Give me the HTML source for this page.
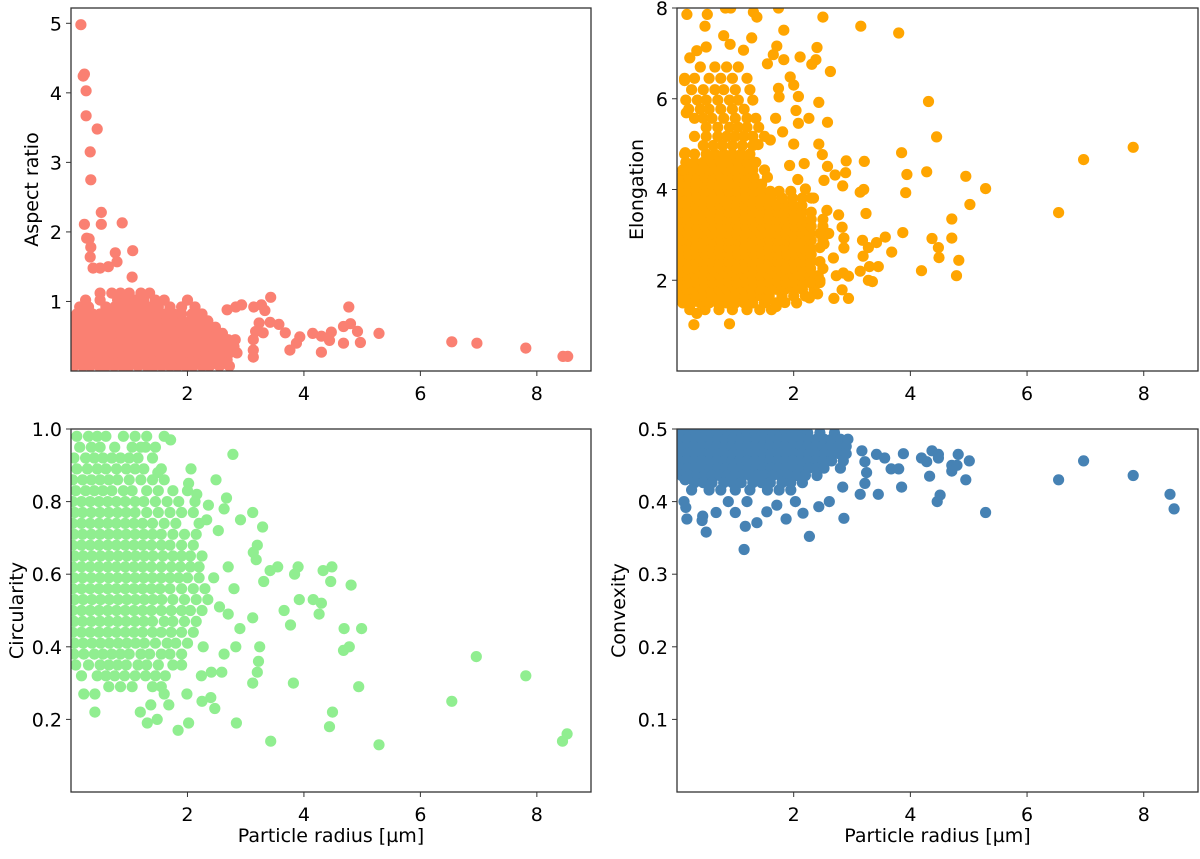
<!DOCTYPE html>
<html><head><meta charset="utf-8"><style>
body{margin:0;background:#fff}
svg text{font-family:"DejaVu Sans","Liberation Sans",sans-serif;fill:#000}
</style></head><body>
<svg id="fig" width="1200" height="854" viewBox="0 0 1200 854" xmlns="http://www.w3.org/2000/svg"></svg>
<script>
// ---------- data ----------
const xTicks=[2,4,6,8];
const aspectTicks=[1,2,3,4,5];
const elongTicks=[2,4,6,8];
const circTicks=[0.2,0.4,0.6,0.8,1.0];
const convTicks=[0.1,0.2,0.3,0.4,0.5];
const circTickLabels=["0.2","0.4","0.6","0.8","1.0"];
const convTickLabels=["0.1","0.2","0.3","0.4","0.5"];

const aspectRows=[
[0.07,[0.05,0.2,0.33,0.48,0.6,0.74,0.88,1.0,1.15,1.3,1.42,1.56,1.7,1.83,1.97,2.1,2.25,2.38,2.55,2.72]],
[0.16,[0.03,0.16,0.29,0.42,0.55,0.69,0.82,0.95,1.08,1.21,1.35,1.48,1.61,1.75,1.88,2.01,2.15,2.28,2.41,2.55,2.68]],
[0.26,[0.06,0.19,0.32,0.46,0.59,0.72,0.86,0.99,1.12,1.25,1.38,1.52,1.65,1.78,1.91,2.05,2.18,2.31,2.45,2.58,2.72,2.85]],
[0.35,[0.03,0.16,0.29,0.42,0.55,0.69,0.82,0.95,1.08,1.21,1.35,1.48,1.61,1.75,1.88,2.01,2.15,2.28,2.41,2.55,2.68,2.8]],
[0.45,[0.04,0.18,0.31,0.44,0.57,0.7,0.84,0.97,1.1,1.23,1.37,1.5,1.63,1.77,1.9,2.03,2.17,2.3,2.43,2.57,2.7,2.82]],
[0.54,[0.05,0.18,0.32,0.45,0.58,0.71,0.85,0.98,1.11,1.24,1.38,1.51,1.64,1.78,1.91,2.04,2.18,2.31,2.45,2.6]],
[0.63,[0.03,0.17,0.3,0.43,0.56,0.7,0.83,0.96,1.09,1.23,1.36,1.49,1.62,1.76,1.89,2.02,2.16,2.3,2.48]],
[0.72,[0.05,0.18,0.31,0.45,0.58,0.71,0.85,0.98,1.11,1.25,1.38,1.51,1.64,1.78,1.91,2.05,2.2,2.35]],
[0.82,[0.1,0.23,0.37,0.5,0.64,0.78,0.92,1.06,1.2,1.34,1.48,1.62,1.76,1.9,2.08,2.25]],
[0.92,[0.15,0.3,0.6,0.75,0.9,1.05,1.2,1.35,1.5,1.7,1.9,2.13]],
[1.02,[0.25,0.5,0.8,0.95,1.1,1.25,1.45,1.6,2.0]],
[1.12,[0.5,0.7,0.85,1.0,1.2,1.35]]
];
const aspectExtra=[[0.17,4.98],[0.21,4.24],[0.23,4.27],[0.26,4.03],[0.26,3.67],[0.45,3.48],[0.33,3.15],[0.34,2.75],[0.52,2.28],[0.23,2.11],[0.52,2.11],[0.88,2.13],[0.27,1.91],[0.31,1.9],[0.34,1.78],[0.33,1.64],[1.06,1.73],[0.76,1.7],[0.79,1.57],[0.38,1.48],[0.5,1.48],[0.64,1.5],[1.05,1.35],[2.68,0.88],[2.83,0.92],[2.93,0.95],[3.14,0.92],[3.27,0.95],[3.43,1.06],[3.33,0.87],[3.23,0.69],[3.17,0.57],[3.13,0.45],[3.13,0.3],[3.13,0.2],[3.42,0.7],[3.57,0.67],[3.68,0.55],[3.3,0.55],[3.93,0.49],[3.87,0.4],[3.76,0.3],[4.15,0.54],[4.3,0.5],[4.47,0.56],[4.44,0.44],[4.3,0.27],[4.77,0.92],[4.68,0.64],[4.8,0.68],[4.92,0.57],[4.68,0.4],[4.97,0.41],[5.29,0.54],[6.54,0.42],[6.97,0.4],[7.81,0.33],[8.45,0.21],[8.53,0.21]];

const elongRows=[
[1.35,[0.22,0.48,0.72,0.95,1.2,1.42,1.62]],
[1.5,[0.1,0.25,0.4,0.55,0.7,0.85,1.0,1.15,1.3,1.5,1.7,2.05]],
[1.65,[0.05,0.18,0.32,0.46,0.6,0.74,0.88,1.02,1.16,1.3,1.44,1.58,1.8,2.0,2.2]],
[1.8,[0.04,0.17,0.3,0.44,0.58,0.72,0.86,1.0,1.14,1.28,1.42,1.56,1.7,1.85,2.0,2.15,2.35]],
[1.95,[0.06,0.19,0.33,0.47,0.61,0.75,0.89,1.03,1.17,1.31,1.45,1.59,1.73,1.87,2.01,2.15,2.3,2.45]],
[2.1,[0.04,0.18,0.32,0.46,0.6,0.74,0.88,1.02,1.16,1.3,1.44,1.58,1.72,1.86,2.0,2.14,2.28,2.42]],
[2.26,[0.05,0.19,0.33,0.47,0.61,0.75,0.89,1.03,1.17,1.31,1.45,1.59,1.73,1.87,2.01,2.15,2.29,2.5]],
[2.41,[0.04,0.18,0.32,0.46,0.6,0.74,0.88,1.02,1.16,1.3,1.44,1.58,1.72,1.86,2.0,2.14,2.3,2.45]],
[2.57,[0.06,0.2,0.34,0.48,0.62,0.76,0.9,1.04,1.18,1.32,1.46,1.6,1.74,1.88,2.02,2.16,2.3]],
[2.72,[0.04,0.18,0.32,0.46,0.6,0.74,0.88,1.02,1.16,1.3,1.44,1.58,1.72,1.86,2.0,2.14,2.28,2.45]],
[2.88,[0.05,0.19,0.33,0.47,0.61,0.75,0.89,1.03,1.17,1.31,1.45,1.59,1.73,1.87,2.01,2.15,2.3,2.5]],
[3.03,[0.04,0.18,0.32,0.46,0.6,0.74,0.88,1.02,1.16,1.3,1.44,1.58,1.72,1.86,2.0,2.14,2.28,2.45,2.6]],
[3.19,[0.06,0.2,0.34,0.48,0.62,0.76,0.9,1.04,1.18,1.32,1.46,1.6,1.74,1.88,2.02,2.16,2.3,2.5]],
[3.34,[0.04,0.18,0.32,0.46,0.6,0.74,0.88,1.02,1.16,1.3,1.44,1.58,1.72,1.86,2.0,2.14,2.3,2.5]],
[3.5,[0.05,0.19,0.33,0.47,0.61,0.75,0.89,1.03,1.17,1.31,1.45,1.59,1.73,1.87,2.01,2.15,2.3]],
[3.65,[0.04,0.18,0.32,0.46,0.6,0.74,0.88,1.02,1.16,1.3,1.44,1.58,1.72,1.86,2.0,2.14]],
[3.81,[0.06,0.2,0.34,0.48,0.62,0.76,0.9,1.04,1.18,1.32,1.46,1.62,1.8,1.98,2.15,2.3]],
[3.96,[0.05,0.19,0.33,0.47,0.61,0.75,0.89,1.03,1.17,1.31,1.45,1.6,1.75,1.95]],
[4.12,[0.04,0.18,0.32,0.46,0.6,0.74,0.88,1.02,1.16,1.3,1.45]],
[4.27,[0.06,0.2,0.34,0.48,0.62,0.76,0.9,1.04,1.18,1.32,1.55]],
[4.43,[0.1,0.25,0.4,0.55,0.7,0.85,1.0,1.15,1.3,1.5]],
[4.6,[0.15,0.3,0.45,0.6,0.75,0.9,1.05,1.2,1.35]],
[4.78,[0.13,0.3,0.5,0.65,0.8,0.95,1.1,1.25]],
[4.97,[0.45,0.62,0.78,0.95,1.12,1.3]],
[5.17,[0.3,0.5,0.7,0.85,1.0,1.15,1.3,1.5]],
[5.37,[0.5,0.7,0.9,1.05,1.2,1.4]],
[5.57,[0.3,0.45,0.6,0.8,1.0,1.2,1.35]],
[5.77,[0.2,0.4,0.55,0.75,0.95,1.15]],
[5.97,[0.15,0.35,0.5,0.7,0.9,1.05,1.3]],
[6.2,[0.25,0.45,0.65,0.8,1.0,1.25]],
[6.45,[0.13,0.3,0.55,0.75,0.95,1.2]],
[6.7,[0.4,0.65,0.85,1.05]]
];
const elongExtra=[[2.5,7.8],[3.15,7.6],[3.8,7.45],[4.31,5.94],[4.45,5.16],[7.82,4.93],[6.97,4.66],[6.54,3.49],[5.29,4.02],[4.95,4.29],[5.02,3.67],[4.71,3.35],[4.71,2.93],[4.83,2.44],[4.79,2.1],[4.49,2.5],[4.48,2.72],[4.37,2.92],[4.19,2.21],[4.28,4.39],[3.94,4.33],[3.92,3.93],[3.85,4.81],[3.87,3.05],[3.68,2.62],[3.57,2.95],[3.42,2.83],[3.24,3.47],[3.21,4.62],[3.2,4.0],[3.14,3.94],[3.18,2.88],[3.28,2.72],[3.19,2.53],[3.14,2.2],[3.3,2.3],[3.45,2.3],[3.28,2.0],[3.35,1.97],[2.9,4.63],[2.89,4.37],[2.84,4.08],[2.71,4.32],[2.52,4.2],[2.58,4.51],[2.49,4.77],[2.43,5.0],[2.18,4.57],[1.93,4.53],[2.07,4.22],[2.2,4.01],[2.34,3.81],[2.57,3.54],[2.77,3.44],[2.83,3.17],[2.86,2.93],[2.86,2.71],[2.68,2.49],[2.52,2.8],[2.73,2.1],[2.85,2.16],[2.94,2.09],[2.83,1.79],[2.69,1.6],[2.94,1.6],[2.45,2.0],[2.41,1.7],[2.27,1.61],[2.28,1.95],[1.85,1.51],[1.7,1.42],[1.55,1.57],[0.9,1.04],[0.29,1.02],[0.34,1.27],[2.63,6.6],[2.43,5.92],[2.58,5.48],[2.4,7.13],[2.38,6.86],[2.31,6.76],[2.11,6.92],[1.83,7.51],[2.08,6.05],[2.04,5.74],[2.08,5.46],[2.26,5.57],[2.0,5.0],[1.94,6.48],[2.0,6.3],[1.74,6.23],[1.75,6.04],[1.71,7.16],[1.65,6.97],[1.83,6.86],[1.55,6.77],[1.69,5.57],[1.81,5.27],[1.6,5.09],[1.39,4.99],[1.28,7.34],[1.14,7.07],[1.31,7.91],[1.37,7.8],[1.74,8.0],[0.8,7.39],[0.91,7.2],[0.83,8.0],[0.92,8.0],[0.52,7.86],[0.48,7.6],[0.17,7.86],[0.5,7.14],[0.34,7.06],[0.22,6.9],[0.13,6.4],[0.16,5.69],[0.14,4.81],[0.11,4.43]];

const circRows=[
[0.98,[0.1,0.3,0.45,0.6,0.9,1.1,1.3,1.6]],
[0.95,[0.15,0.35,0.5,0.75,1.05,1.2,1.45]],
[0.92,[0.05,0.25,0.4,0.55,0.7,0.85,1.0,1.15,1.4]],
[0.89,[0.1,0.28,0.45,0.6,0.78,0.95,1.1,1.25,1.55]],
[0.86,[0.03,0.2,0.35,0.5,0.65,0.8,1.0,1.2,1.4,1.6]],
[0.83,[0.08,0.25,0.4,0.55,0.7,0.9,1.05,1.3,1.5,1.75,2.0]],
[0.8,[0.03,0.18,0.33,0.48,0.63,0.78,0.93,1.1,1.25,1.45,1.65,1.85]],
[0.77,[0.06,0.2,0.35,0.5,0.65,0.8,0.95,1.1,1.3,1.5,1.7,1.9,2.1]],
[0.74,[0.03,0.18,0.33,0.48,0.63,0.78,0.93,1.08,1.23,1.4,1.6,1.8,2.2]],
[0.71,[0.05,0.2,0.35,0.5,0.65,0.8,0.95,1.1,1.25,1.4,1.55,1.75,1.95,2.15]],
[0.68,[0.03,0.18,0.33,0.48,0.63,0.78,0.93,1.08,1.23,1.38,1.55,1.7,1.9,2.1]],
[0.65,[0.06,0.21,0.36,0.51,0.66,0.81,0.96,1.11,1.26,1.41,1.58,1.75,1.9,2.05,2.25]],
[0.62,[0.03,0.18,0.33,0.48,0.63,0.78,0.93,1.08,1.23,1.38,1.55,1.72,1.88,2.05,2.2]],
[0.59,[0.05,0.2,0.35,0.5,0.65,0.8,0.95,1.1,1.25,1.4,1.55,1.7,1.85,2.0,2.2,2.45]],
[0.56,[0.03,0.18,0.33,0.48,0.63,0.78,0.93,1.08,1.23,1.38,1.53,1.7,1.9,2.1,2.3]],
[0.53,[0.06,0.21,0.36,0.51,0.66,0.81,0.96,1.11,1.26,1.41,1.56,1.75,1.95,2.15,2.35]],
[0.5,[0.03,0.18,0.33,0.48,0.63,0.78,0.93,1.08,1.23,1.38,1.55,1.72,1.9,2.05,2.25]],
[0.47,[0.05,0.2,0.35,0.5,0.65,0.8,0.95,1.1,1.25,1.4,1.6,1.75,1.95,2.15]],
[0.44,[0.03,0.18,0.33,0.48,0.63,0.78,0.93,1.08,1.23,1.4,1.55,1.72,1.9,2.1]],
[0.41,[0.06,0.21,0.36,0.51,0.66,0.81,0.96,1.11,1.26,1.45,1.65,1.8,2.0]],
[0.38,[0.05,0.22,0.4,0.55,0.7,0.85,1.0,1.2,1.35,1.55,1.7,1.9]],
[0.35,[0.08,0.3,0.5,0.65,0.8,0.95,1.15,1.3,1.5,1.75,1.9]],
[0.32,[0.18,0.45,0.6,0.75,0.92,1.1,1.28,1.45,1.62]],
[0.29,[0.65,0.85,1.05,1.4,1.55]]
];
const circExtra=[[2.78,0.93],[2.49,0.86],[2.06,0.89],[2.67,0.81],[2.63,0.78],[3.12,0.77],[2.91,0.75],[3.29,0.73],[3.2,0.68],[3.13,0.66],[3.18,0.64],[3.55,0.62],[3.42,0.61],[3.31,0.58],[3.9,0.62],[3.84,0.6],[4.33,0.61],[4.48,0.62],[4.46,0.58],[4.81,0.57],[3.92,0.53],[4.16,0.53],[4.3,0.52],[4.26,0.49],[3.66,0.5],[3.77,0.46],[4.69,0.45],[4.99,0.45],[4.68,0.39],[4.78,0.4],[6.96,0.373],[7.81,0.32],[6.54,0.25],[4.94,0.29],[3.82,0.3],[4.49,0.22],[4.44,0.18],[3.43,0.14],[5.29,0.13],[8.52,0.16],[8.44,0.14],[2.84,0.19],[3.12,0.3],[3.2,0.33],[3.22,0.36],[3.24,0.4],[3.12,0.48],[2.9,0.45],[2.83,0.4],[2.63,0.38],[2.59,0.33],[2.41,0.33],[2.24,0.32],[2.4,0.26],[2.25,0.25],[2.47,0.23],[2.02,0.19],[1.84,0.17],[1.68,0.24],[1.99,0.27],[1.6,0.27],[1.31,0.19],[1.48,0.2],[1.19,0.22],[1.37,0.24],[0.41,0.22],[0.22,0.27],[0.41,0.27],[2.27,0.4],[2.7,0.49],[2.7,0.62],[2.8,0.56],[2.55,0.51],[2.53,0.72],[2.33,0.75],[2.36,0.79],[2.16,0.82],[2.13,0.8],[2.02,0.85],[1.71,0.97],[1.28,0.95],[1.49,0.88]];

const convRows=[
[0.495,[0.03,0.16,0.29,0.42,0.55,0.68,0.81,0.94,1.07,1.2,1.33,1.46,1.59,1.72,1.85,1.98,2.11,2.24,2.45,2.7]],
[0.486,[0.05,0.18,0.31,0.44,0.57,0.7,0.83,0.96,1.09,1.22,1.35,1.48,1.61,1.74,1.87,2.0,2.13,2.26,2.39,2.52,2.65,2.8,2.93]],
[0.476,[0.03,0.16,0.29,0.42,0.55,0.68,0.81,0.94,1.07,1.2,1.33,1.46,1.59,1.72,1.85,1.98,2.11,2.24,2.37,2.5,2.63,2.76,2.9]],
[0.466,[0.05,0.18,0.31,0.44,0.57,0.7,0.83,0.96,1.09,1.22,1.35,1.48,1.61,1.74,1.87,2.0,2.13,2.26,2.39,2.52,2.65,2.78,2.9]],
[0.456,[0.03,0.16,0.29,0.42,0.55,0.68,0.81,0.94,1.07,1.2,1.33,1.46,1.59,1.72,1.85,1.98,2.11,2.24,2.37,2.5,2.65,2.85]],
[0.446,[0.05,0.18,0.31,0.44,0.57,0.7,0.83,0.96,1.09,1.22,1.35,1.48,1.61,1.74,1.87,2.0,2.13,2.26,2.39,2.52,2.8]],
[0.436,[0.08,0.21,0.34,0.47,0.6,0.73,0.86,0.99,1.12,1.25,1.38,1.51,1.64,1.77,1.9,2.05,2.2,2.4]],
[0.426,[0.3,0.45,0.6,0.8,0.95,1.1,1.3,1.45,1.6,1.8,1.95,2.15]],
[0.416,[0.25,0.55,0.75,1.0,1.25,1.55,1.75,1.95]]
];
const convExtra=[[0.14,0.43],[0.12,0.4],[0.15,0.392],[0.17,0.376],[0.44,0.38],[0.43,0.374],[0.5,0.358],[0.67,0.385],[1.15,0.334],[1.0,0.385],[1.17,0.366],[1.37,0.371],[1.54,0.386],[0.88,0.4],[1.2,0.4],[1.71,0.395],[1.87,0.376],[2.16,0.384],[2.27,0.352],[2.03,0.4],[2.43,0.393],[2.61,0.4],[2.86,0.377],[2.84,0.42],[3.14,0.41],[3.22,0.425],[3.45,0.41],[3.25,0.44],[3.17,0.47],[3.22,0.455],[3.42,0.465],[3.56,0.46],[3.67,0.445],[3.8,0.445],[3.85,0.42],[3.88,0.466],[4.19,0.46],[4.28,0.455],[4.37,0.47],[4.48,0.465],[4.48,0.46],[4.33,0.435],[4.51,0.409],[4.46,0.4],[4.82,0.465],[4.71,0.45],[4.8,0.45],[4.71,0.442],[5.01,0.456],[4.95,0.43],[5.29,0.385],[6.54,0.43],[6.97,0.456],[7.82,0.436],[8.45,0.41],[8.52,0.39]];

// ---------- drawing ----------
const NS="http://www.w3.org/2000/svg";
const svg=document.getElementById('fig');
function mk(tag,attrs,parent){const e=document.createElementNS(NS,tag);for(const k in attrs)e.setAttribute(k,attrs[k]);(parent||svg).appendChild(e);return e;}

function drawPanel(p){
  const g=mk('g',{});
  
  
  const sx=v=>p.l+(v-0)/(8.93-0)*p.w;
  const sy=v=>p.t+p.h-(v-p.y0)/(p.y1-p.y0)*p.h;
  const pts=mk('g',{fill:p.color},g);
  
  
  const cp=mk('clipPath',{id:'clip-'+p.name},g);
  mk('rect',{x:p.l,y:p.t,width:p.w,height:p.h},cp);
  pts.setAttribute('clip-path','url(#clip-'+p.name+')');
  const all=[];
  p.rows.forEach(r=>r[1].forEach(x=>all.push([x,r[0]])));
  p.extra.forEach(d=>all.push(d));
  all.forEach(d=>{
    const c=mk('circle',{cx:sx(d[0]).toFixed(1),cy:sy(d[1]).toFixed(1),r:5.6},pts);
    
    
  });
  const fr=mk('rect',{x:p.l,y:p.t,width:p.w,height:p.h,fill:'none',stroke:'#333',"stroke-width":1.3},g);
  
  
  xTicks.forEach(v=>{
    const x=sx(v);
    mk('line',{x1:x,x2:x,y1:p.t+p.h,y2:p.t+p.h+5,stroke:'#333','stroke-width':1},g);
    const t=mk('text',{x:x,y:p.t+p.h+29,'text-anchor':'middle','font-size':19},g);
    t.textContent=String(v);
    
    
  });
  p.yTicks.forEach((v,i)=>{
    const y=sy(v);
    mk('line',{x1:p.l-5,x2:p.l,y1:y,y2:y,stroke:'#333','stroke-width':1},g);
    const t=mk('text',{x:p.l-9,y:y+7,'text-anchor':'end','font-size':19},g);
    t.textContent=p.yLabels?p.yLabels[i]:String(v);
    
    
  });
  const yl=mk('text',{x:p.ylx,y:p.t+p.h/2,'text-anchor':'middle','font-size':19,transform:'rotate(-90 '+p.ylx+' '+(p.t+p.h/2)+')'},g);
  yl.textContent=p.ylabel;
  
  
  if(p.xlabel){
    const xl=mk('text',{x:p.l+p.w/2,y:p.t+p.h+50,'text-anchor':'middle','font-size':19},g);
    xl.textContent='Particle radius [µm]';
    
    
  }
}

drawPanel({name:'aspect-ratio-panel',l:71,t:8,w:520,h:363,y0:0,y1:5.22,color:'#fa8072',rows:aspectRows,extra:aspectExtra,yTicks:aspectTicks,ylabel:'Aspect ratio',ylx:38});
drawPanel({name:'elongation-panel',l:677,t:8,w:521,h:363,y0:0,y1:8,color:'#ffa500',rows:elongRows,extra:elongExtra,yTicks:elongTicks,ylabel:'Elongation',ylx:643});
drawPanel({name:'circularity-panel',l:71,t:429,w:520,h:363,y0:0,y1:1.0,color:'#90ee90',rows:circRows,extra:circExtra,yTicks:circTicks,yLabels:circTickLabels,ylabel:'Circularity',ylx:23,xlabel:true});
drawPanel({name:'convexity-panel',l:677,t:429,w:521,h:363,y0:0,y1:0.5,color:'#4682b4',rows:convRows,extra:convExtra,yTicks:convTicks,yLabels:convTickLabels,ylabel:'Convexity',ylx:625,xlabel:true});
</script>
</body></html>
